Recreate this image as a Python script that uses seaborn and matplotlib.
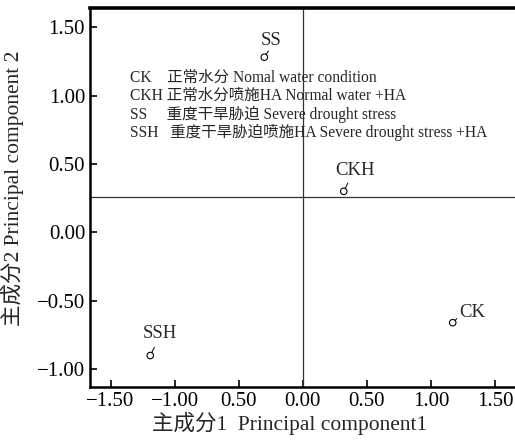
import matplotlib
matplotlib.use("Agg")
import matplotlib.pyplot as plt
import seaborn as sns
import pandas as pd

# Data
groups = ["SS", "CKH", "CK", "SSH"]
pc1 = [-0.30, 0.32, 1.17, -1.19]
pc2 = [1.28, 0.30, -0.66, -0.90]
xticks = [-1.5, -1.0, -0.5, 0.0, 0.5, 1.0, 1.5]
xticklabels = ["\u22121.50", "\u22121.00", "0.50", "0.00", "0.50", "1.00", "1.50"]
yticks = [-1.0, -0.5, 0.0, 0.5, 1.0, 1.5]
yticklabels = ["\u22121.00", "\u22120.50", "0.00", "0.50", "1.00", "1.50"]
legend_lines = [
    "CK    正常水分 Nomal water condition",
    "CKH 正常水分喷施HA Normal water +HA",
    "SS     重度干旱胁迫 Severe drought stress",
    "SSH   重度干旱胁迫喷施HA Severe drought stress +HA",
]
hline_y = 0.255

sns.set_theme(style="ticks")
fam = ["Liberation Serif", "Noto Sans CJK SC", "DejaVu Sans"]
plt.rcParams["font.family"] = fam
plt.rcParams["axes.unicode_minus"] = True

df = pd.DataFrame({"group": groups, "pc1": pc1, "pc2": pc2})

fig = plt.figure(figsize=(5.15, 4.41), dpi=100)
ax = fig.add_axes([0.1748, 0.1224, 0.8252, 0.8596])

sns.scatterplot(data=df, x="pc1", y="pc2", ax=ax, s=22, facecolor="none",
                edgecolor="black", linewidth=0.8, zorder=3)

ax.set_xlim(-1.66, 1.656)
ax.set_ylim(-1.13, 1.64)

ax.axvline(0, color="#333333", lw=0.9, zorder=1)
ax.axhline(hline_y, color="#333333", lw=0.9, zorder=1)

# point labels with short leader lines
offsets = {"SS": (5, 12), "CKH": (8, 15), "CK": (14, 7), "SSH": (7, 16)}
leaders = {"SS": (3, 4.5), "CKH": (3, 6), "CK": (3, 3), "SSH": (3, 6)}
for g, x, y in zip(groups, pc1, pc2):
    ox, oy = offsets[g]
    ax.annotate(g, xy=(x, y), xytext=(ox, oy), textcoords="offset points",
                ha="center", va="center", fontsize=13.5)
    lx, ly = leaders[g]
    ax.annotate("", xy=(x, y), xytext=(lx, ly), textcoords="offset points",
                arrowprops=dict(arrowstyle="-", lw=0.7, color="black",
                                shrinkA=0, shrinkB=2.2))

# legend text block
for i, line in enumerate(legend_lines):
    ax.text(0.094, 0.815 - i * 0.0475, line, transform=ax.transAxes,
            fontsize=11.2, ha="left", va="center")

ax.set_xticks(xticks)
ax.set_xticklabels(xticklabels)
ax.set_yticks(yticks)
ax.set_yticklabels(yticklabels)
ax.tick_params(direction="in", length=5, width=1.2, labelsize=15, colors="black")

for side in ["left", "bottom"]:
    ax.spines[side].set_linewidth(1.8)
    ax.spines[side].set_color("black")
ax.spines["top"].set_visible(True)
ax.spines["top"].set_linewidth(2.6)
ax.spines["top"].set_color("black")
ax.spines["right"].set_visible(False)

ax.set_xlabel("主成分1  Principal component1", fontsize=15.5)
ax.set_ylabel("主成分2 Principal component 2", fontsize=15.5)
ax.xaxis.set_label_coords(0.47, -0.066)
ax.yaxis.set_label_coords(-0.155, 0.525)

fig.savefig("out.png", dpi=100)
